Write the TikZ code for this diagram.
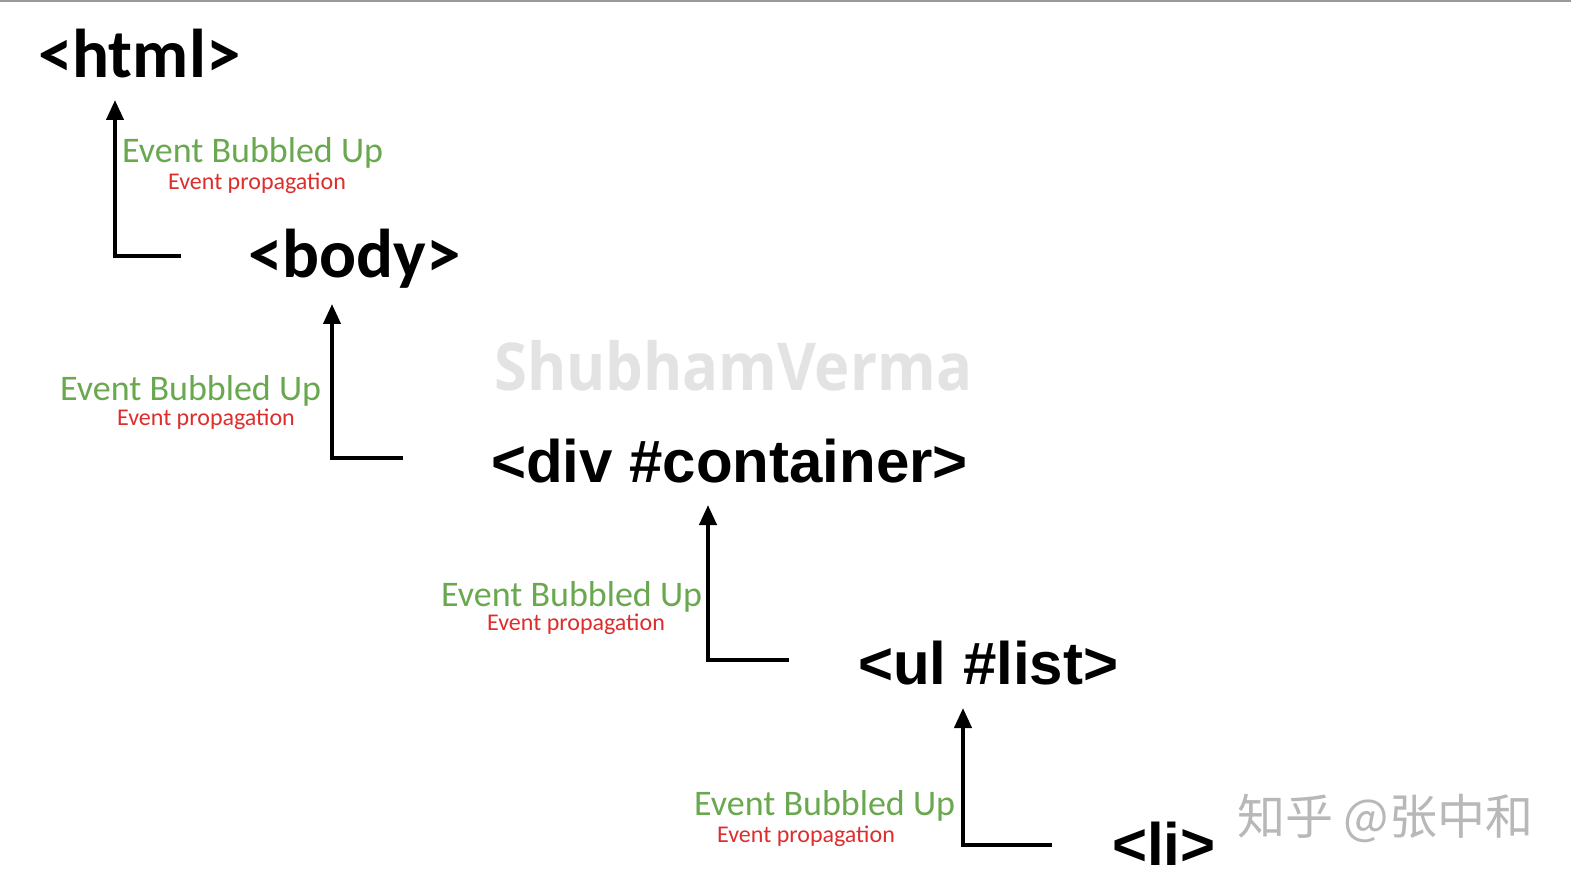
\documentclass[tikz,border=0pt]{standalone}
\usepackage{fontspec}
\usetikzlibrary{arrows.meta}
\newfontfamily\calfont{Carlito}
\newfontfamily\helfont{Liberation Sans}
\newfontfamily\wmfont{Open Sans}
\newfontfamily\cjk{Noto Sans CJK SC}
\definecolor{bubgreen}{RGB}{106,168,79}
\definecolor{propred}{RGB}{222,45,45}
\tikzset{tagc/.style={anchor=base west, inner sep=0pt,
  font=\calfont\bfseries\fontsize{69}{69}\selectfont},
  tagh/.style={anchor=base west, inner sep=0pt,
  font=\helfont\bfseries\fontsize{60}{60}\selectfont},
  bub/.style={anchor=base west, inner sep=0pt, text=bubgreen,
  font=\calfont\fontsize{36}{36}\selectfont},
  prop/.style={anchor=base west, inner sep=0pt, text=propred,
  font=\calfont\fontsize{24}{24}\selectfont},
  up/.style={line width=4pt, -{Triangle[length=20pt, width=17pt]}}}

\begin{document}
\begin{tikzpicture}[x=1pt, y=-1pt]
  \useasboundingbox (0,0) rectangle (1571,882);
  \fill[white] (0,0) rectangle (1571,882);
  \draw[black!40, line width=2.5pt] (0,1) -- (1571,1);
  % watermarks
  \node[anchor=base west, inner sep=0pt, text=black!11, transform shape, xscale=0.905,
    font=\wmfont\bfseries\fontsize{66}{66}\selectfont] (wm) at (494,390) {ShubhamVerma};
  \node[anchor=base west, inner sep=0pt, text=black!28,
    font=\cjk\fontsize{48}{48}\selectfont] (zh) at (1237,834) {知乎 @张中和};
  % elements
  \node[tagc] (html) at (38,78)  {<html>};
  \node[tagc] (body) at (248,278) {<body>};
  \node[tagh] (div)  at (491,482) {<div \#container>};
  \node[tagh] (ul)   at (858,684) {<ul \#list>};
  \node[tagh] (li)   at (1112,865) {<li>};
  % corners and tips
  \coordinate (c1) at (181,256); \coordinate (t1) at (115,100);
  \coordinate (c2) at (403,458); \coordinate (t2) at (332,304);
  \coordinate (c3) at (789,660); \coordinate (t3) at (708,505);
  \coordinate (c4) at (1052,845); \coordinate (t4) at (963,708);
  \draw[up] (c1) -| (t1);
  \draw[up] (c2) -| (t2);
  \draw[up] (c3) -| (t3);
  \draw[up] (c4) -| (t4);
  % labels
  \node[bub]  (g1) at (122,163) {Event Bubbled Up};
  \node[prop] (r1) at (168,190) {Event propagation};
  \node[bub]  (g2) at (60,400)  {Event Bubbled Up};
  \node[prop] (r2) at (117,425) {Event propagation};
  \node[bub]  (g3) at (441,606) {Event Bubbled Up};
  \node[prop] (r3) at (487,630) {Event propagation};
  \node[bub]  (g4) at (694,815) {Event Bubbled Up};
  \node[prop] (r4) at (717,842) {Event propagation};
\end{tikzpicture}
\end{document}
